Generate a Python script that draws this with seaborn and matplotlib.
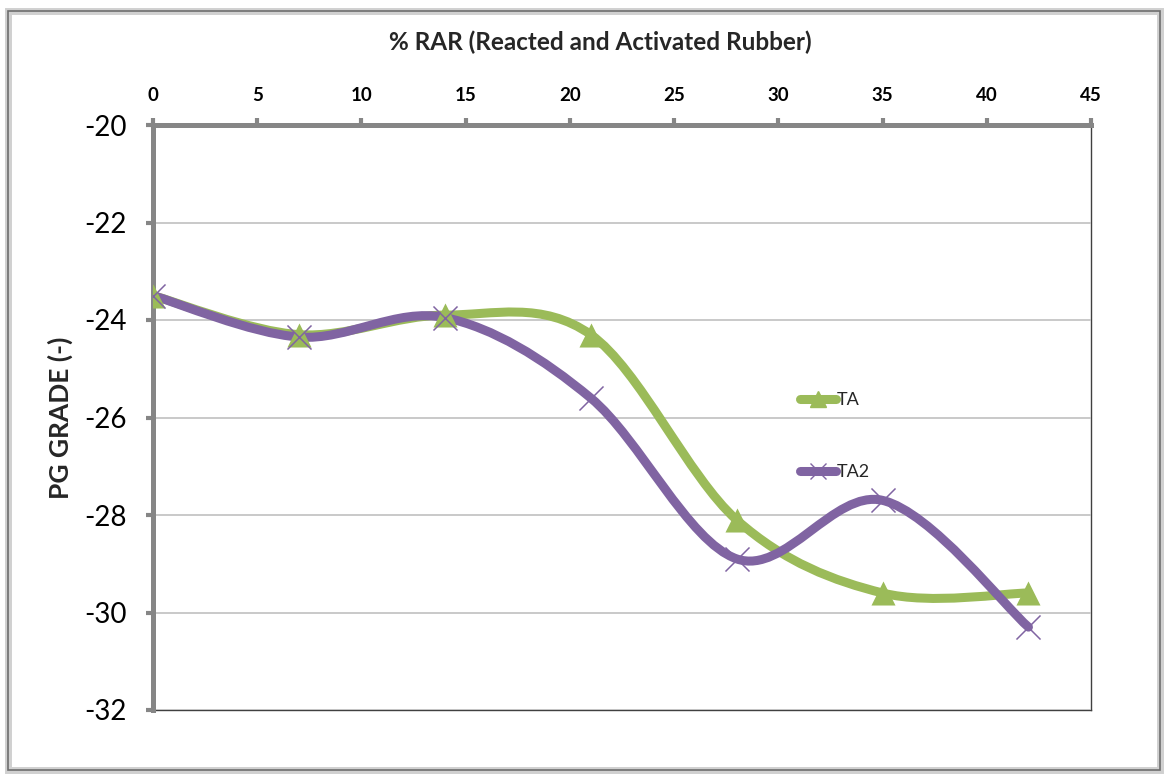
import numpy as np
import matplotlib
matplotlib.use("Agg")
import matplotlib.pyplot as plt
from matplotlib.path import Path
from matplotlib.patches import PathPatch, Rectangle
from matplotlib.lines import Line2D
import seaborn as sns

# ---- data ----
rar_pct = [0, 7, 14, 21, 28, 35, 42]
ta_values = [-23.5, -24.3, -23.9, -24.3, -28.1, -29.6, -29.6]
ta2_values = [-23.5, -24.35, -23.95, -25.6, -28.9, -27.7, -30.3]
series_names = ["TA", "TA2"]
x_ticks = [0, 5, 10, 15, 20, 25, 30, 35, 40, 45]
y_ticks = [-32, -30, -28, -26, -24, -22, -20]

GREEN = "#9BBB59"
PURPLE = "#8064A2"
AXGRAY = "#868686"

sns.set_theme(style="white")
plt.rcParams["font.family"] = ["Lato", "DejaVu Sans"]

fig = plt.figure(figsize=(11.64, 7.75), dpi=100)
ax = fig.add_axes([153/1164, 1-710/775, (1091-153)/1164, (710-125)/775])


def smooth_path(xs, ys):
    """Excel-style smoothed line: cubic Bezier segments through the points."""
    P = np.column_stack([xs, ys]).astype(float)
    n = len(P)
    verts = [P[0]]
    codes = [Path.MOVETO]
    for i in range(n - 1):
        p0 = P[i - 1] if i > 0 else P[i]
        p1 = P[i]
        p2 = P[i + 1]
        p3 = P[i + 2] if i + 2 < n else P[i + 1]
        c1 = p1 + (p2 - p0) / 6.0
        c2 = p2 - (p3 - p1) / 6.0
        verts += [c1, c2, p2]
        codes += [Path.CURVE4] * 3
    return Path(verts, codes)


for vals, color, marker, kw in [
    (ta_values, GREEN, "^", dict(s=300, linewidth=0)),
    (ta2_values, PURPLE, "x", dict(s=300, linewidth=1.1)),
]:
    patch = PathPatch(smooth_path(rar_pct, vals), facecolor="none",
                      edgecolor=color, lw=6.5, capstyle="round",
                      joinstyle="round", zorder=3)
    ax.add_patch(patch)
    sns.scatterplot(x=rar_pct, y=vals, marker=marker, color=color, ax=ax,
                    zorder=4, legend=False, **kw)

ax.set_xlim(0, 45)
ax.set_ylim(-32, -20)
ax.set_xticks(x_ticks)
ax.set_yticks(y_ticks)
ax.xaxis.tick_top()
ax.xaxis.set_label_position("top")
ax.set_xlabel("% RAR (Reacted and Activated Rubber)", fontsize=17.5,
              fontweight="bold")
ax.xaxis.set_label_coords(447/938, 1 + 75/585)
ax.set_ylabel("PG GRADE (-)", fontsize=19, fontweight="bold", labelpad=8)
ax.set_xticklabels([str(v) for v in x_ticks], fontsize=13.5, fontweight="bold")
ax.set_yticklabels([str(v) for v in y_ticks], fontsize=20)

ax.yaxis.grid(True, color="#C0C0C0", lw=1.2)
ax.xaxis.grid(False)
ax.set_axisbelow(True)

for side in ["left", "top"]:
    ax.spines[side].set_color(AXGRAY)
    ax.spines[side].set_linewidth(3.6)
for side in ["right", "bottom"]:
    ax.spines[side].set_color("#404040")
    ax.spines[side].set_linewidth(1.0)
    ax.spines[side].set_zorder(0.5)

ax.tick_params(axis="x", which="major", direction="out", length=5, width=3,
               color=AXGRAY, pad=10, top=True, bottom=False, labelcolor="black")
ax.tick_params(axis="y", which="major", direction="out", length=5, width=3,
               color=AXGRAY, pad=14, left=True, labelcolor="black")

handles = [
    Line2D([], [], color=GREEN, lw=6.5, marker="^", markersize=11,
           solid_capstyle="round"),
    Line2D([], [], color=PURPLE, lw=6.5, marker="x", markersize=11,
           markeredgewidth=1.0, solid_capstyle="round"),
]
leg = ax.legend(handles, series_names, loc="upper left",
                bbox_to_anchor=(640/938, 1-260/585), frameon=False,
                fontsize=13, handlelength=2.0, handletextpad=0.0,
                labelspacing=3.1, borderaxespad=0)

# figure frame with soft shadow
fig.patches.append(Rectangle((8/1164, 5/775), (1160-8)/1164, (767-8)/775,
                             transform=fig.transFigure, fill=False,
                             edgecolor="#D0D0D0", lw=5, zorder=-1))
fig.patches.append(Rectangle((8/1164, 5/775), (1160-8)/1164, (767-8)/775,
                             transform=fig.transFigure, fill=False,
                             edgecolor="#6E6E6E", lw=1.2, zorder=0))

fig.savefig("out.png", dpi=100)
